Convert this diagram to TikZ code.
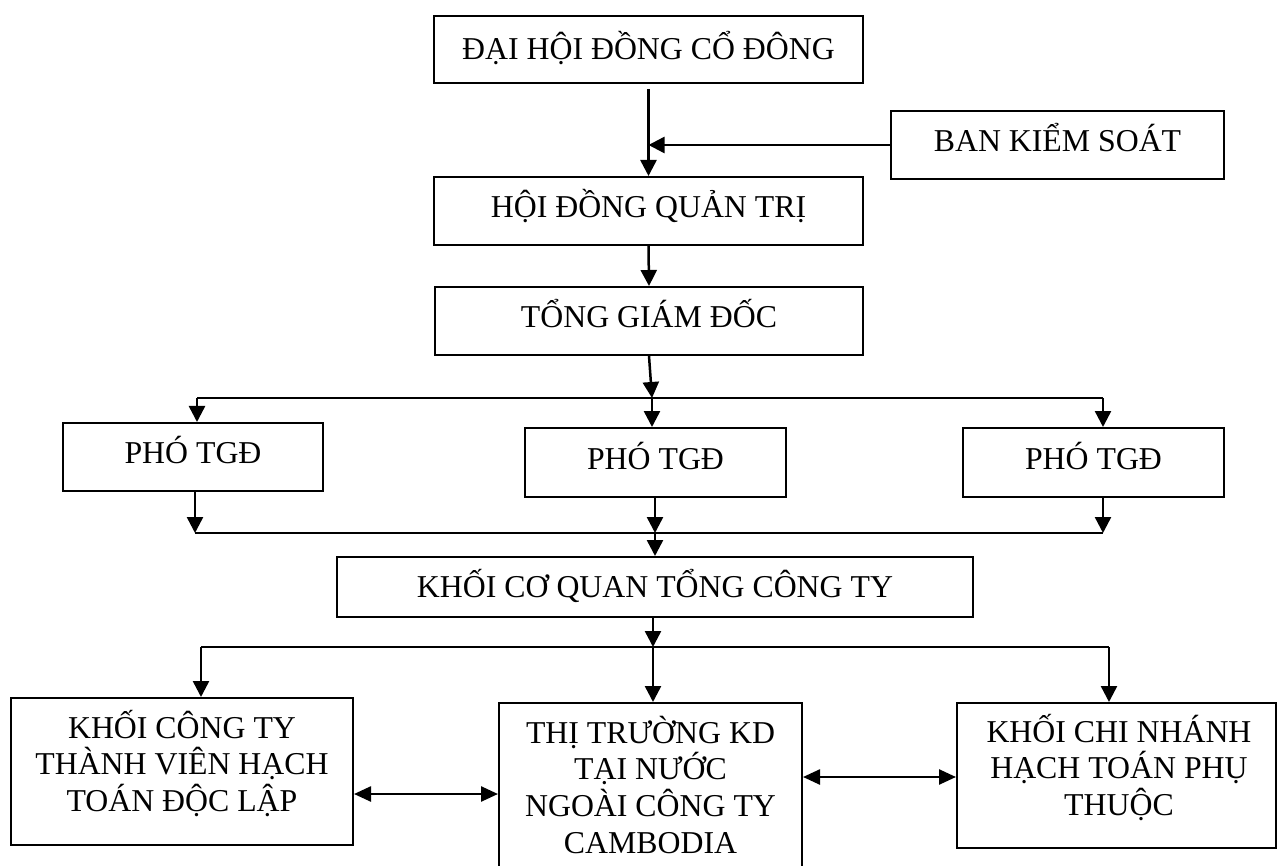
\documentclass[tikz,border=0pt]{standalone}
\usepackage{fontspec}
\setmainfont{Liberation Serif}
\usetikzlibrary{arrows.meta,calc}
\begin{document}
\begin{tikzpicture}[x=1pt,y=-1pt,
  box/.style={draw,line width=2pt,inner sep=0pt,
    font=\fontsize{31.8pt}{36.6pt}\selectfont,
    text height=21pt,text depth=8pt},
  mtext/.style={inner sep=0pt,align=center,
    font=\fontsize{31.8pt}{36.6pt}\selectfont},
  ln/.style={line width=2.3pt},
  arr/.style={line width=2.5pt,-{Triangle[length=16pt,width=16pt]}},
  darr/.style={line width=2.5pt,{Triangle[length=17pt,width=15pt]}-{Triangle[length=17pt,width=15pt]}}]
\useasboundingbox (0,0) rectangle (1277,866);
\clip (0,0) rectangle (1277,866);
% boxes
\node[box,text depth=0pt,minimum width=429pt,minimum height=67pt] (dh) at (648.5,49.5) {ĐẠI HỘI ĐỒNG CỔ ĐÔNG};
\node[box,minimum width=333pt,minimum height=68pt] (bks) at (1057.5,145) {BAN KIỂM SOÁT};
\node[box,minimum width=429pt,minimum height=68pt] (hdqt) at (648.5,211) {HỘI ĐỒNG QUẢN TRỊ};
\node[box,minimum width=428pt,minimum height=68pt] (tgd) at (649,321) {TỔNG GIÁM ĐỐC};
\node[box,minimum width=260pt,minimum height=68pt] (p1) at (193,457) {PHÓ TGĐ};
\node[box,minimum width=261pt,minimum height=69pt] (p2) at (655.5,462.5) {PHÓ TGĐ};
\node[box,minimum width=261pt,minimum height=69pt] (p3) at (1093.5,462.5) {PHÓ TGĐ};
\node[box,text depth=0pt,minimum width=636pt,minimum height=60pt] (kcq) at (655,587) {KHỐI CƠ QUAN TỔNG CÔNG TY};
\node[box,minimum width=342pt,minimum height=147pt] (b1) at (182,771.5) {};
\node[box,minimum width=303pt,minimum height=170pt] (b2) at (650.5,788) {};
\node[box,minimum width=318.5pt,minimum height=145pt] (b3) at (1116.25,775.5) {};
\node[mtext,anchor=north] (b1t) at (182,738) {\smash{KHỐI CÔNG TY}\\\smash{THÀNH VIÊN HẠCH}\\\smash{TOÁN ĐỘC LẬP}};
\node[mtext,anchor=north] (b2t) at (650.5,743) {\smash{THỊ TRƯỜNG KD}\\\smash{TẠI NƯỚC}\\\smash{NGOÀI CÔNG TY}\\\smash{CAMBODIA}};
\node[mtext,anchor=north] (b3t) at (1119,742) {\smash{KHỐI CHI NHÁNH}\\\smash{HẠCH TOÁN PHỤ}\\\smash{THUỘC}};
% top connectors
\draw[arr] ([yshift=-5pt]dh.south) -- (hdqt.north);
\draw[arr] (bks.west) -- (bks.west -| dh.south);
\draw[arr] (hdqt.south) -- (tgd.north);
% first distribution line
\coordinate (j1) at (652,398);
\coordinate (j1l) at (197,398);
\coordinate (j1r) at (1103,398);
\draw[arr] (tgd.south) -- (j1);
\draw[ln] (j1l) -- (j1r);
\draw[arr] (j1l) -- (j1l |- p1.north);
\draw[arr] (j1) -- (j1 |- p2.north);
\draw[arr] (j1r) -- (j1r |- p3.north);
% collecting line
\coordinate (j2) at (655,533);
\coordinate (j2l) at (195,533);
\coordinate (j2r) at (1103,533);
\draw[arr] (p1.south -| j2l) -- (j2l);
\draw[arr] (p2.south -| j2) -- (j2);
\draw[arr] (p3.south -| j2r) -- (j2r);
\draw[ln] (j2l) -- (j2r);
\draw[arr] (j2) -- (j2 |- kcq.north);
% bottom distribution line
\coordinate (j3) at (653,647);
\coordinate (j3l) at (201,647);
\coordinate (j3r) at (1109,647);
\draw[arr] (kcq.south -| j3) -- (j3);
\draw[ln] (j3l) -- (j3r);
\draw[arr] (j3l) -- (j3l |- b1.north);
\draw[arr] (j3) -- (j3 |- b2.north);
\draw[arr] (j3r) -- (j3r |- b3.north);
% double arrows
\draw[darr] ([yshift=-22.5pt]b1.east) -- ([yshift=-22.5pt]b1.east -| b2.west);
\draw[darr] ([yshift=11pt]b2.east) -- ([yshift=11pt]b2.east -| b3.west);
\end{tikzpicture}
\end{document}
